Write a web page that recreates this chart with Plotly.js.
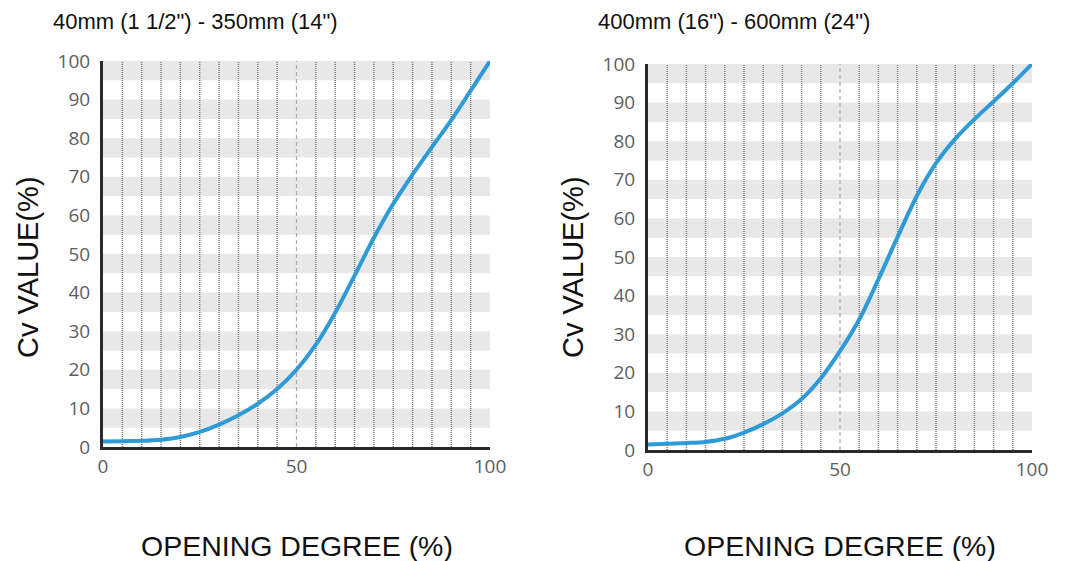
<!DOCTYPE html>
<html>
<head>
<meta charset="utf-8">
<script src="https://cdn.plot.ly/plotly-3.0.1.min.js"></script>
<style>
html,body{margin:0;padding:0;background:#fff;}
#chart{width:1067px;height:561px;}
</style>
</head>
<body>
<div id="chart"></div>
<script>
// ---- data ----
const openingDegree = [0, 5, 10, 15, 20, 25, 30, 35, 40, 45, 50, 55, 60, 65, 70, 75, 80, 85, 90, 95, 100];
const cvSmall = [1.4, 1.5, 1.6, 1.9, 2.6, 3.9, 5.8, 8.2, 11.2, 15.0, 20.0, 26.5, 34.8, 44.4, 54.2, 63.0, 70.6, 77.7, 84.7, 92.3, 100];
const cvLarge = [1.4, 1.6, 1.8, 2.1, 2.9, 4.5, 6.7, 9.5, 13.2, 18.6, 25.6, 33.8, 44.2, 55.2, 65.8, 74.3, 80.6, 85.7, 90.3, 95.0, 100];
const panelTitles = ['40mm (1 1/2") - 350mm (14")', '400mm (16") - 600mm (24")'];
const xTitle = 'OPENING DEGREE (%)';
const yTitle = 'Cv VALUE(%)';
const xTicks = [0, 50, 100];
const yTicks = [0, 10, 20, 30, 40, 50, 60, 70, 80, 90, 100];

// ---- layout geometry (pixels -> paper) ----
const W = 1067, H = 561;
const px = v => v / W, py = v => 1 - v / H;
const panels = [
  {x0: 103, x1: 490, yTop: 61, yBot: 447, xa: 'x', ya: 'y'},
  {x0: 648, x1: 1032, yTop: 64, yBot: 450, xa: 'x2', ya: 'y2'}
];

const lineColor = '#2e9ad6';
const traces = [cvSmall, cvLarge].map((vals, i) => ({
  x: openingDegree, y: vals, type: 'scatter', mode: 'lines',
  line: {color: lineColor, width: 4, shape: 'spline', smoothing: 1},
  xaxis: panels[i].xa, yaxis: panels[i].ya, hoverinfo: 'skip', showlegend: false
}));

const shapes = [];
panels.forEach(p => {
  // gray bands
  for (let b = 5; b < 100; b += 10) {
    shapes.push({type: 'rect', xref: p.xa, yref: p.ya, x0: 0, x1: 100, y0: b, y1: b + 5,
      fillcolor: '#e8e8e8', line: {width: 0}, layer: 'below'});
  }
  // vertical dotted grid lines
  for (let g = 5; g < 100; g += 5) {
    const mid = g === 50;
    shapes.push({type: 'line', xref: p.xa, yref: p.ya, x0: g, x1: g, y0: 0, y1: 100,
      line: {color: mid ? '#aaaaaa' : '#7c7c7c', width: mid ? 1.2 : 1.5, dash: mid ? '4px,3px' : '1px,1px'},
      layer: 'below'});
  }
});

const tickFont = {family: 'Open Sans, sans-serif', size: 19, color: '#5e5e5e'};
const xaxisBase = {range: [0, 100], tickvals: xTicks, ticktext: xTicks.map(String), showgrid: false, zeroline: false,
  showline: true, linecolor: '#2a2a2a', linewidth: 3, ticks: '', tickfont: tickFont, fixedrange: true};
const yaxisBase = {range: [0, 100], tickvals: yTicks, ticktext: yTicks.map(String), showgrid: false, zeroline: false,
  showline: true, linecolor: '#2a2a2a', linewidth: 3, ticks: '', tickfont: tickFont, ticklabelstandoff: 6, fixedrange: true};

const annotations = [];
panels.forEach((p, i) => {
  annotations.push({text: panelTitles[i], xref: 'paper', yref: 'paper', x: px(p.x0 - 52), y: py(22),
    xanchor: 'left', yanchor: 'middle', showarrow: false,
    font: {family: 'Liberation Sans, Arial, sans-serif', size: 22, color: '#111'}});
  annotations.push({text: xTitle, xref: 'paper', yref: 'paper', x: px((p.x0 + p.x1) / 2), y: py(546),
    xanchor: 'center', yanchor: 'middle', showarrow: false,
    font: {family: 'Liberation Sans, Arial, sans-serif', size: 28.5, color: '#111'}});
  annotations.push({text: yTitle, xref: 'paper', yref: 'paper', x: px(p.x0 - 75), y: py(267),
    xanchor: 'center', yanchor: 'middle', showarrow: false, textangle: -90,
    font: {family: 'Liberation Sans, Arial, sans-serif', size: 29, color: '#111'}});
});

const layout = {
  width: W, height: H, margin: {l: 0, r: 0, t: 0, b: 0},
  paper_bgcolor: '#fff', plot_bgcolor: '#fff', showlegend: false,
  xaxis: Object.assign({}, xaxisBase, {domain: [px(panels[0].x0), px(panels[0].x1)], anchor: 'y'}),
  yaxis: Object.assign({}, yaxisBase, {domain: [py(panels[0].yBot), py(panels[0].yTop)], anchor: 'x'}),
  xaxis2: Object.assign({}, xaxisBase, {domain: [px(panels[1].x0), px(panels[1].x1)], anchor: 'y2'}),
  yaxis2: Object.assign({}, yaxisBase, {domain: [py(panels[1].yBot), py(panels[1].yTop)], anchor: 'x2'}),
  shapes: shapes, annotations: annotations
};

Plotly.newPlot('chart', traces, layout, {staticPlot: true, displayModeBar: false});
</script>
</body>
</html>
